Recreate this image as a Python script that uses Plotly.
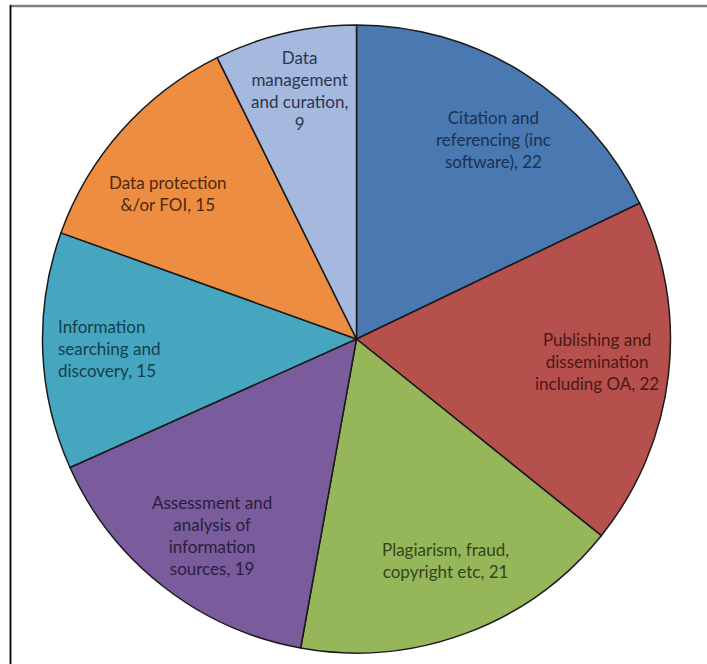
import math
import plotly.graph_objects as go

# ---- data ----
categories = [
    "Citation and<br>referencing (inc<br>software)",
    "Publishing and<br>dissemination<br>including OA",
    "Plagiarism, fraud,<br>copyright etc",
    "Assessment and<br>analysis of<br>information<br>sources",
    "Information<br>searching and<br>discovery",
    "Data protection<br>&/or FOI",
    "Data<br>management<br>and curation,<br>",
]
values = [22, 22, 21, 19, 15, 15, 9]

# ---- style ----
slice_colors = ["#4A78B0", "#B6504C", "#95B75A", "#7A5C9C", "#46A6C0", "#EC8D42", "#A5B8DE"]
text_colors = ["#1B3250", "#4A1815", "#34451A", "#2A1C40", "#12404C", "#4F2A0E", "#2B3650"]
aligns = ["center", "center", "center", "center", "left", "center", "center"]
radial = [0.78, 0.77, 0.77, 0.77, 0.80, 0.77, 0.84]
nudge_x = [7, 0, 4, 5, 4, -8, 3]
nudge_y = [8, -5, -5, 6, 0, 15, 8]

W, H = 707, 664
cx_px, cy_px, R_px = 356.5, 339.0, 314.0
dom_x = [(cx_px - R_px) / W, (cx_px + R_px) / W]
dom_y = [1 - (cy_px + R_px) / H, 1 - (cy_px - R_px) / H]

fig = go.Figure(go.Pie(
    labels=[c.replace("<br>", " ") for c in categories],
    values=values,
    sort=False,
    direction="clockwise",
    rotation=0,
    marker=dict(colors=slice_colors, line=dict(color="#1a1a1a", width=1.5)),
    textinfo="none",
    hoverinfo="label+value",
    domain=dict(x=dom_x, y=dom_y),
    showlegend=False,
))

total = sum(values)
cum = 0
annotations = []
for cat, v, tc, al, f, nx, ny in zip(categories, values, text_colors, aligns, radial, nudge_x, nudge_y):
    mid = (cum + v / 2) / total * 2 * math.pi
    cum += v
    xp = cx_px + f * R_px * math.sin(mid) + nx
    yp = cy_px - f * R_px * math.cos(mid) + ny
    if cat.endswith("<br>"):
        txt = cat + str(v)
    else:
        txt = cat + ", " + str(v)
    annotations.append(dict(
        x=xp / W, y=1 - yp / H, xref="paper", yref="paper",
        xanchor="center", yanchor="middle",
        text=txt, showarrow=False, align=al,
        font=dict(family="Lato, Open Sans, sans-serif", size=17, color=tc),
    ))

shapes = [
    dict(type="line", xref="paper", yref="paper", x0=10 / W, x1=1, y0=1 - 6 / H, y1=1 - 6 / H,
         line=dict(color="#808080", width=2.5)),
    dict(type="line", xref="paper", yref="paper", x0=10.5 / W, x1=10.5 / W, y0=0, y1=1 - 5 / H,
         line=dict(color="#000000", width=1.8)),
]

fig.update_layout(
    width=W, height=H,
    margin=dict(l=0, r=0, t=0, b=0),
    paper_bgcolor="white", plot_bgcolor="white",
    annotations=annotations, shapes=shapes,
)

fig.write_html("out.html")
